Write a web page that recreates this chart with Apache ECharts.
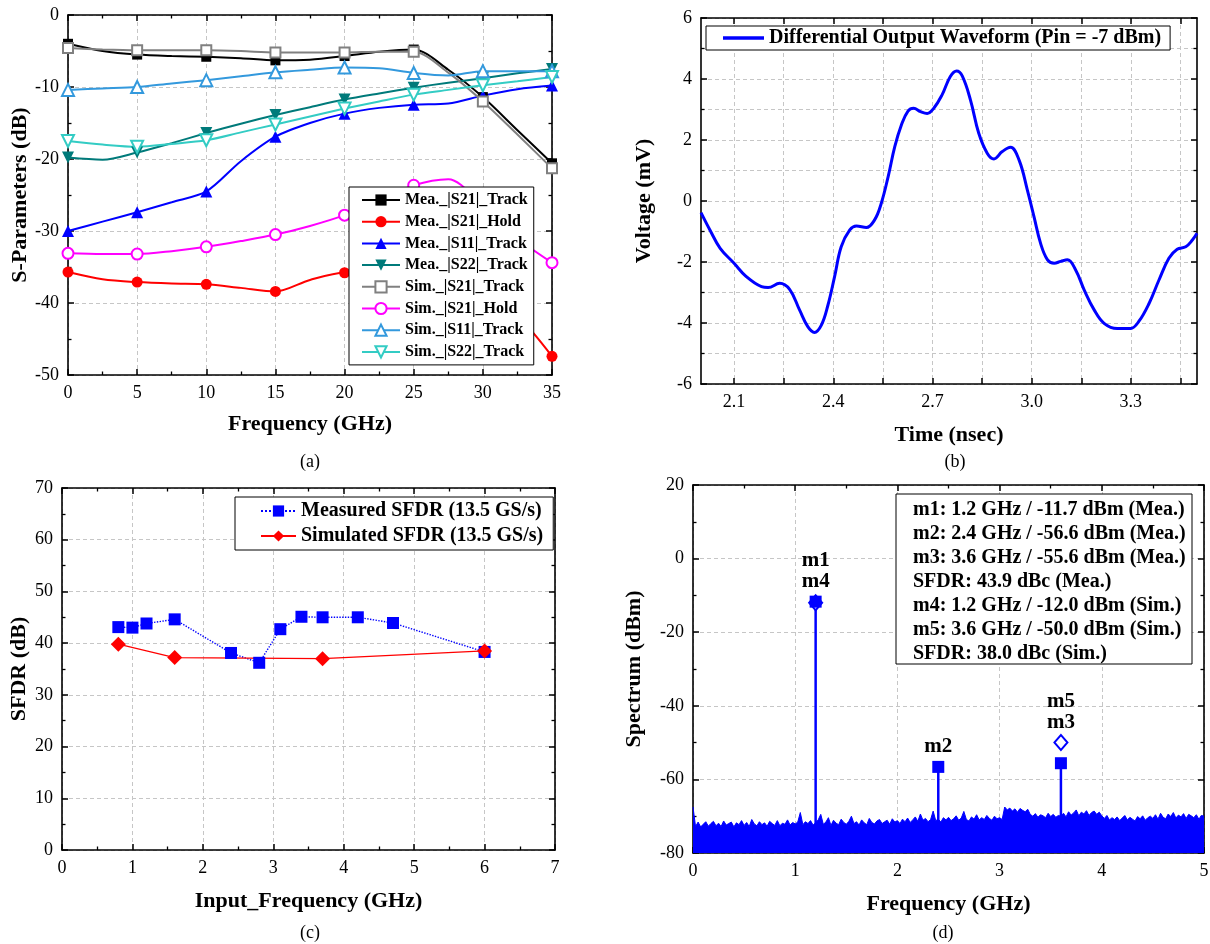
<!DOCTYPE html>
<html>
<head>
<meta charset="utf-8">
<script src="https://cdn.jsdelivr.net/npm/echarts@6/dist/echarts.min.js"></script>
<style>
  html, body { margin: 0; padding: 0; background: #fff; }
  #chart { width: 1210px; height: 944px; }
</style>
</head>
<body>
<div id="chart"></div>
<script>
// ---------- (a) S-parameters versus frequency ----------
const FREQ_A = [0, 2.5, 5, 7.5, 10, 12.5, 15, 17.5, 20, 22.5, 25, 27.5, 30, 32.5, 35];
const MEA_S21_TRACK = [-4.0, -5.0, -5.5, -5.7, -5.8, -6.0, -6.3, -6.2, -5.7, -5.1, -4.8, -7.6, -11.4, -16.0, -20.6];
const MEA_S21_HOLD  = [-35.7, -36.7, -37.1, -37.3, -37.4, -37.9, -38.4, -36.8, -35.8, -36.0, -36.4, -37.2, -38.8, -41.8, -47.4];
const MEA_S11_TRACK = [-30.0, -28.7, -27.4, -26.0, -24.5, -20.3, -16.9, -15.0, -13.7, -12.9, -12.45, -12.3, -11.2, -10.3, -9.8];
const MEA_S22_TRACK = [-19.8, -20.1, -19.1, -17.8, -16.4, -15.1, -13.9, -12.8, -11.75, -10.9, -10.1, -9.4, -8.8, -8.1, -7.5];
const SIM_S21_TRACK = [-4.6, -4.8, -4.9, -4.9, -4.9, -5.0, -5.2, -5.2, -5.2, -5.1, -5.1, -8.0, -12.0, -16.6, -21.3];
const SIM_S21_HOLD  = [-33.1, -33.2, -33.2, -32.8, -32.2, -31.4, -30.5, -29.3, -27.8, -25.8, -23.65, -22.8, -26.5, -31.0, -34.4];
const SIM_S11_TRACK = [-10.4, -10.2, -10.0, -9.5, -9.05, -8.5, -7.95, -7.6, -7.3, -7.4, -8.05, -8.4, -7.8, -7.8, -7.8];
const SIM_S22_TRACK = [-17.5, -18.0, -18.3, -17.9, -17.4, -16.3, -15.2, -14.1, -13.0, -12.0, -11.06, -10.4, -9.76, -9.2, -8.6];
const MARKER_STEP_A = 5; // symbols are shown every 5 GHz

// ---------- (b) differential output waveform ----------
const WAVE_T = [2.000, 2.027, 2.058, 2.100, 2.137, 2.183, 2.203, 2.238, 2.268, 2.298, 2.323, 2.343, 2.364, 2.384, 2.404,
  2.424, 2.450, 2.470, 2.500, 2.525, 2.545, 2.566, 2.586, 2.606, 2.626, 2.643, 2.664, 2.684, 2.704, 2.729, 2.754, 2.773,
  2.790, 2.815, 2.840, 2.866, 2.886, 2.911, 2.936, 2.962, 2.987, 3.007, 3.027, 3.048, 3.068, 3.088, 3.108, 3.133, 3.159,
  3.189, 3.219, 3.259, 3.299, 3.324, 3.355, 3.385, 3.415, 3.440, 3.466, 3.486, 3.500];
const WAVE_V = [-0.38, -0.95, -1.55, -2.04, -2.48, -2.81, -2.84, -2.70, -2.90, -3.57, -4.12, -4.31, -4.07, -3.41, -2.48,
  -1.50, -0.95, -0.82, -0.87, -0.62, -0.08, 0.80, 1.78, 2.49, 2.95, 3.04, 2.93, 2.87, 3.04, 3.48, 4.08, 4.26,
  4.10, 3.31, 2.22, 1.56, 1.38, 1.62, 1.76, 1.34, 0.36, -0.51, -1.39, -1.93, -2.04, -1.98, -1.93, -2.26, -2.92,
  -3.57, -4.01, -4.18, -4.18, -3.95, -3.36, -2.59, -1.88, -1.58, -1.50, -1.28, -1.06];
const WAVE_TICKS = [2.1, 2.25, 2.4, 2.55, 2.7, 2.85, 3.0, 3.15, 3.3, 3.45];
const WAVE_TICK_LABELS = [2.1, 2.4, 2.7, 3.0, 3.3];

// ---------- (c) SFDR versus input frequency ----------
const SFDR_MEA_FREQ = [0.8, 1.0, 1.2, 1.6, 2.4, 2.8, 3.1, 3.4, 3.7, 4.2, 4.7, 6.0];
const SFDR_MEA      = [43.1, 43.0, 43.8, 44.6, 38.1, 36.2, 42.7, 45.1, 45.0, 45.0, 43.9, 38.3];
const SFDR_SIM_FREQ = [0.8, 1.6, 3.7, 6.0];
const SFDR_SIM      = [39.8, 37.2, 37.0, 38.5];

// ---------- (d) output spectrum ----------
const SPEC_STEP = 0.025; // GHz between spectrum samples, starting at 0
const SPEC_FLOOR = [
  -67.5, -72.8, -71.6, -72.9, -72.2, -71.5, -72.7, -72.0, -71.4, -72.6, -71.9, -72.8, -71.3, -72.4, -72.0, -71.6, -72.9, -71.8, -72.3, -71.2,
  -72.5, -71.7, -72.8, -70.9, -72.1, -72.6, -71.5, -72.3, -71.8, -72.7, -71.4, -72.0, -72.5, -71.2, -72.6, -71.9, -72.2, -71.0, -72.4, -71.7,
  -72.1, -71.6, -69.0, -72.3, -71.5, -72.0, -71.2, -72.4, -71.8, -71.0, -69.5, -72.2, -71.6, -70.4, -72.5, -71.1, -71.9, -72.3, -70.8, -71.7,
  -72.2, -71.4, -70.0, -72.0, -71.5, -72.4, -71.0, -71.8, -72.3, -70.6, -71.7, -72.1, -71.3, -70.9, -72.0, -71.5, -71.1, -72.2, -70.7, -71.6,
  -71.2, -72.0, -70.8, -71.5, -70.5, -71.7, -71.0, -70.2, -71.4, -69.4, -71.1, -70.6, -71.5, -70.9, -68.6, -71.2, -70.8, -71.6, -70.4, -71.0,
  -70.3, -71.2, -70.7, -69.9, -71.1, -70.5, -68.7, -70.9, -71.3, -70.2, -70.8, -69.6, -71.0, -70.4, -70.9, -69.8, -70.6, -71.1, -70.0, -70.7,
  -70.4, -70.9, -67.5, -68.3, -67.8, -68.6, -68.0, -68.9, -67.9, -68.4, -68.8, -68.1, -69.5, -70.0, -69.3, -70.3, -69.6, -69.9, -70.4, -69.2,
  -70.1, -69.5, -70.3, -69.8, -70.0, -69.2, -70.2, -68.8, -69.7, -69.1, -68.3, -69.9, -68.9, -69.4, -68.5, -69.8, -69.0, -68.6, -69.5, -68.9,
  -69.9, -70.6, -69.8, -71.0, -70.4, -70.9, -70.2, -71.2, -70.5, -69.8, -71.0, -70.3, -70.8, -71.3, -70.1, -70.7, -69.9, -71.1, -70.4, -70.0,
  -70.6, -69.6, -70.8, -69.2, -70.3, -70.7, -69.4, -70.1, -69.0, -70.5, -69.7, -70.2, -69.3, -70.6, -69.5, -69.9, -70.4, -69.6, -70.8, -69.8,
  -70.0
];
const MEA_MARK_NAMES = ['m1', 'm2', 'm3'];
const MEA_MARK_FREQ  = [1.2, 2.4, 3.6];
const MEA_MARK_DBM   = [-11.7, -56.6, -55.6];
const SIM_MARK_NAMES = ['m4', 'm5'];
const SIM_MARK_FREQ  = [1.2, 3.6];
const SIM_MARK_DBM   = [-12.0, -50.0];
const SPEC_Y_MIN = -80;

// ---------- shared styling ----------
const SERIF = '"Liberation Serif", "Times New Roman", serif';
const GRID_LINE = { color: '#c6c6c6', type: [4, 3], width: 1 };

function axis(o) {
  const ax = {
    type: 'value', gridIndex: o.grid, position: o.position,
    min: o.min, max: o.max,
    name: o.mirror ? '' : (o.name || ''), nameLocation: 'middle', nameGap: o.nameGap,
    nameTextStyle: { fontFamily: SERIF, fontWeight: 'bold', fontSize: 22, color: '#000' },
    axisLine: { show: true, onZero: false, lineStyle: { color: '#000', width: 1.6 } },
    axisTick: { show: true, inside: true, length: 6, lineStyle: { color: '#000', width: 1.5 } },
    minorTick: { show: !o.tickValues, splitNumber: 2, length: 3.5, lineStyle: { color: '#000', width: 1.3 } },
    axisLabel: { show: !o.mirror, color: '#000', fontFamily: SERIF, fontSize: 18, margin: 9 },
    splitLine: { show: !o.mirror, lineStyle: GRID_LINE },
    minorSplitLine: { show: !o.mirror && !!o.minorSplit, lineStyle: GRID_LINE }
  };
  if (o.interval !== undefined) ax.interval = o.interval;
  if (o.tickValues) ax.axisTick.customValues = o.tickValues;
  if (o.labelValues) ax.axisLabel.customValues = o.labelValues;
  if (o.labelFmt) ax.axisLabel.formatter = o.labelFmt;
  return ax;
}

// x axes: a-bottom, a-top, b-bottom, b-top, c-bottom, c-top, d-bottom, d-top
const xAxes = [];
const yAxes = [];
function addPanel(g, xo, yo) {
  xAxes.push(axis(Object.assign({ grid: g, position: 'bottom' }, xo)));
  xAxes.push(axis(Object.assign({ grid: g, position: 'top', mirror: true }, xo)));
  yAxes.push(axis(Object.assign({ grid: g, position: 'left' }, yo)));
  yAxes.push(axis(Object.assign({ grid: g, position: 'right', mirror: true }, yo)));
}
addPanel(0, { min: 0, max: 35, interval: 5, name: 'Frequency (GHz)', nameGap: 38 },
            { min: -50, max: 0, interval: 10, name: 'S-Parameters (dB)', nameGap: 36 });
addPanel(1, { min: 2.0, max: 3.5, tickValues: WAVE_TICKS, labelValues: WAVE_TICK_LABELS,
              labelFmt: v => Number(v).toFixed(1), name: 'Time (nsec)', nameGap: 40 },
            { min: -6, max: 6, interval: 2, minorSplit: true, name: 'Voltage (mV)', nameGap: 46 });
addPanel(2, { min: 0, max: 7, interval: 1, name: 'Input_Frequency (GHz)', nameGap: 40 },
            { min: 0, max: 70, interval: 10, name: 'SFDR (dB)', nameGap: 32 });
addPanel(3, { min: 0, max: 5, interval: 1, name: 'Frequency (GHz)', nameGap: 40 },
            { min: SPEC_Y_MIN, max: 20, interval: 20, name: 'Spectrum (dBm)', nameGap: 48 });

// ---------- (a) series ----------
const SPARAM = [
  { name: 'Mea._|S21|_Track', values: MEA_S21_TRACK, color: '#000000', symbol: 'rect', size: 10 },
  { name: 'Mea._|S21|_Hold',  values: MEA_S21_HOLD,  color: '#ff0000', symbol: 'circle', size: 11 },
  { name: 'Mea._|S11|_Track', values: MEA_S11_TRACK, color: '#0000ff', symbol: 'triangle', size: 12 },
  { name: 'Mea._|S22|_Track', values: MEA_S22_TRACK, color: '#007a7a', symbol: 'triangle', size: 12, rotate: 180 },
  { name: 'Sim._|S21|_Track', values: SIM_S21_TRACK, color: '#808080', symbol: 'emptyRect', size: 10 },
  { name: 'Sim._|S21|_Hold',  values: SIM_S21_HOLD,  color: '#ff00ff', symbol: 'emptyCircle', size: 11 },
  { name: 'Sim._|S11|_Track', values: SIM_S11_TRACK, color: '#3399dd', symbol: 'emptyTriangle', size: 12 },
  { name: 'Sim._|S22|_Track', values: SIM_S22_TRACK, color: '#33ccc4', symbol: 'emptyTriangle', size: 12, rotate: 180 }
];
const series = SPARAM.map(s => ({
  type: 'line', name: s.name, xAxisIndex: 0, yAxisIndex: 0,
  smooth: 0.3, showSymbol: true, showAllSymbol: true,
  symbol: s.symbol, symbolSize: s.size, symbolRotate: s.rotate || 0,
  lineStyle: { color: s.color, width: 2 },
  itemStyle: { color: s.color, borderWidth: 1.3 },
  data: FREQ_A.map((f, i) => ({ value: [f, s.values[i]], symbol: f % MARKER_STEP_A === 0 ? s.symbol : 'none' }))
}));

// ---------- (b) series ----------
const WAVE_NAME = 'Differential Output Waveform (Pin = -7 dBm)';
series.push({
  type: 'line', name: WAVE_NAME, xAxisIndex: 2, yAxisIndex: 2,
  smooth: 0.4, showSymbol: false, symbol: 'none',
  lineStyle: { color: '#0000ff', width: 3 }, itemStyle: { color: '#0000ff' },
  data: WAVE_T.map((t, i) => [t, WAVE_V[i]])
});

// ---------- (c) series ----------
series.push({
  type: 'line', name: 'Measured SFDR (13.5 GS/s)', xAxisIndex: 4, yAxisIndex: 4,
  symbol: 'rect', symbolSize: 12, showAllSymbol: true,
  lineStyle: { color: '#0000ff', width: 1.4, type: 'dotted' }, itemStyle: { color: '#0000ff' },
  data: SFDR_MEA_FREQ.map((f, i) => [f, SFDR_MEA[i]])
});
series.push({
  type: 'line', name: 'Simulated SFDR (13.5 GS/s)', xAxisIndex: 4, yAxisIndex: 4,
  symbol: 'diamond', symbolSize: 15, showAllSymbol: true,
  lineStyle: { color: '#ff0000', width: 1.2 }, itemStyle: { color: '#ff0000' },
  data: SFDR_SIM_FREQ.map((f, i) => [f, SFDR_SIM[i]])
});

// ---------- (d) series ----------
series.push({
  type: 'line', name: 'spectrum', xAxisIndex: 6, yAxisIndex: 6,
  symbol: 'none', showSymbol: false,
  lineStyle: { color: '#0000ff', width: 1 },
  areaStyle: { color: '#0000ff', opacity: 1, origin: 'start' },
  data: SPEC_FLOOR.map((v, i) => [i * SPEC_STEP, v])
});
MEA_MARK_FREQ.forEach((f, i) => {
  series.push({
    type: 'line', name: 'tone-' + MEA_MARK_NAMES[i], xAxisIndex: 6, yAxisIndex: 6,
    symbol: 'none', lineStyle: { color: '#0000ff', width: 2.5 },
    data: [[f, SPEC_Y_MIN], [f, MEA_MARK_DBM[i]]]
  });
});
series.push({
  type: 'scatter', name: 'sim-markers', xAxisIndex: 6, yAxisIndex: 6, z: 3,
  symbol: 'emptyDiamond', symbolSize: [13, 15],
  itemStyle: { color: '#0000ff', borderWidth: 1.2, opacity: 1 },
  data: SIM_MARK_FREQ.map((f, i) => [f, SIM_MARK_DBM[i]])
});
series.push({
  type: 'scatter', name: 'mea-markers', xAxisIndex: 6, yAxisIndex: 6, z: 4,
  symbol: 'rect', symbolSize: 12,
  itemStyle: { color: '#0000ff', opacity: 1 },
  data: MEA_MARK_FREQ.map((f, i) => [f, MEA_MARK_DBM[i]])
});
// marker names stacked above the highest marker at each frequency
const allMarks = MEA_MARK_NAMES.map((n, i) => ({ n, f: MEA_MARK_FREQ[i], v: MEA_MARK_DBM[i] }))
  .concat(SIM_MARK_NAMES.map((n, i) => ({ n, f: SIM_MARK_FREQ[i], v: SIM_MARK_DBM[i] })));
const markFreqs = [...new Set(allMarks.map(m => m.f))];
series.push({
  type: 'scatter', name: 'marker-names', xAxisIndex: 6, yAxisIndex: 6, z: 5,
  symbolSize: 13, itemStyle: { color: 'rgba(0,0,0,0)', opacity: 1 }, silent: true,
  label: { show: true, position: 'top', distance: 3, color: '#000', fontFamily: SERIF,
           fontWeight: 'bold', fontSize: 21, lineHeight: 21 },
  data: markFreqs.map(f => {
    const ms = allMarks.filter(m => m.f === f).sort((a, b) => b.v - a.v);
    return { value: [f, ms[0].v], label: { formatter: ms.map(m => m.n).join('\n') } };
  })
});

// annotation lines for the spectrum
const meaSfdr = MEA_MARK_DBM[0] - Math.max(...MEA_MARK_DBM.slice(1));
const simSfdr = SIM_MARK_DBM[0] - Math.max(...SIM_MARK_DBM.slice(1));
const annotLines = MEA_MARK_NAMES.map((n, i) => `${n}: ${MEA_MARK_FREQ[i].toFixed(1)} GHz / ${MEA_MARK_DBM[i].toFixed(1)} dBm (Mea.)`)
  .concat([`SFDR: ${meaSfdr.toFixed(1)} dBc (Mea.)`])
  .concat(SIM_MARK_NAMES.map((n, i) => `${n}: ${SIM_MARK_FREQ[i].toFixed(1)} GHz / ${SIM_MARK_DBM[i].toFixed(1)} dBm (Sim.)`))
  .concat([`SFDR: ${simSfdr.toFixed(1)} dBc (Sim.)`]);

const legendBase = {
  orient: 'vertical', selectedMode: false, backgroundColor: '#fff',
  borderColor: '#000', borderWidth: 1, borderRadius: 0,
  textStyle: { fontFamily: SERIF, fontWeight: 'bold', color: '#000' }
};

const option = {
  animation: false,
  backgroundColor: '#fff',
  textStyle: { fontFamily: SERIF },
  grid: [
    { left: 68, top: 15, width: 484, height: 360, outerBoundsMode: 'none' },
    { left: 701, top: 18, width: 496, height: 366, outerBoundsMode: 'none' },
    { left: 62, top: 488, width: 493, height: 362, outerBoundsMode: 'none' },
    { left: 693, top: 485, width: 511, height: 368, outerBoundsMode: 'none' }
  ],
  xAxis: xAxes,
  yAxis: yAxes,
  legend: [
    Object.assign({}, legendBase, {
      data: SPARAM.map(s => s.name), left: 349, top: 187,
      itemWidth: 38, itemHeight: 14, itemGap: 5.7, padding: [5, 6, 5, 12],
      textStyle: Object.assign({}, legendBase.textStyle, { fontSize: 16, lineHeight: 16 })
    }),
    Object.assign({}, legendBase, {
      data: [{ name: WAVE_NAME, icon: 'rect' }], left: 706, top: 26,
      itemWidth: 41, itemHeight: 3.5, padding: [2, 9, 2, 17],
      textStyle: Object.assign({}, legendBase.textStyle, { fontSize: 20, lineHeight: 20 })
    }),
    Object.assign({}, legendBase, {
      data: ['Measured SFDR (13.5 GS/s)', 'Simulated SFDR (13.5 GS/s)'], left: 235, top: 497,
      itemWidth: 35, itemHeight: 14, itemGap: 5, padding: [4, 10, 4, 25],
      textStyle: Object.assign({}, legendBase.textStyle, { fontSize: 20, lineHeight: 20 })
    })
  ],
  graphic: [
    { type: 'text', z: 100, style: { text: '(a)', x: 310, y: 462, align: 'center', verticalAlign: 'middle', font: '18px ' + SERIF, fill: '#000' } },
    { type: 'text', z: 100, style: { text: '(b)', x: 955, y: 462, align: 'center', verticalAlign: 'middle', font: '18px ' + SERIF, fill: '#000' } },
    { type: 'text', z: 100, style: { text: '(c)', x: 310, y: 933, align: 'center', verticalAlign: 'middle', font: '18px ' + SERIF, fill: '#000' } },
    { type: 'text', z: 100, style: { text: '(d)', x: 943, y: 933, align: 'center', verticalAlign: 'middle', font: '18px ' + SERIF, fill: '#000' } },
    { type: 'rect', z: 100, shape: { x: 896, y: 494, width: 296, height: 170 }, style: { fill: '#fff', stroke: '#000', lineWidth: 1 } },
    { type: 'text', z: 101, style: { text: annotLines.join('\n'), x: 913, y: 582, align: 'left', verticalAlign: 'middle',
      font: 'bold 20px ' + SERIF, lineHeight: 24, fill: '#000' } }
  ],
  series: series
};

const chart = echarts.init(document.getElementById('chart'), null, { renderer: 'canvas' });
chart.setOption(option);
</script>
</body>
</html>
